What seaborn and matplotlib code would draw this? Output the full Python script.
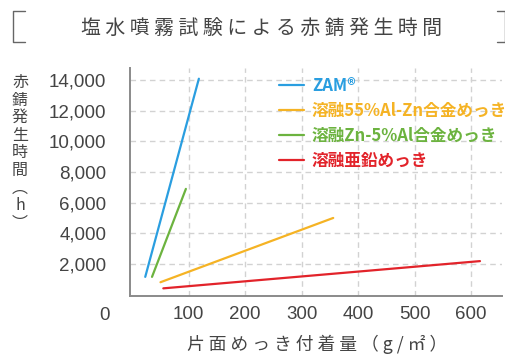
import matplotlib
matplotlib.use("Agg")
import matplotlib.pyplot as plt
import seaborn as sns
import pandas as pd
from matplotlib.lines import Line2D

# ---- data ----
series_names = ["ZAM®", "溶融55%Al-Zn合金めっき", "溶融Zn-5%Al合金めっき", "溶融亜鉛めっき"]
series_colors = ["#2a9ee0", "#f5b324", "#6cb33f", "#e2232a"]
zam_x = [23, 118]
zam_y = [1150, 14100]
alzn_x = [50, 356]
alzn_y = [800, 5000]
znal_x = [35, 95]
znal_y = [1150, 6900]
galv_x = [55, 616]
galv_y = [400, 2180]
x_ticks = [100, 200, 300, 400, 500, 600]
y_ticks = [2000, 4000, 6000, 8000, 10000, 12000, 14000]
y_ticklabels = ["2,000", "4,000", "6,000", "8,000", "10,000", "12,000", "14,000"]
title = "塩 水 噴 霧 試 験 に よ る 赤 錆 発 生 時 間"
xlabel = "片 面 め っ き 付 着 量 （ g / ㎡ ）"
ylabel = "赤\n錆\n発\n生\n時\n間\n︵\nh\n︶"

rows = []
for name, xs, ys in zip(series_names, [zam_x, alzn_x, znal_x, galv_x],
                        [zam_y, alzn_y, znal_y, galv_y]):
    for xv, yv in zip(xs, ys):
        rows.append({"x": xv, "y": yv, "series": name})
df = pd.DataFrame(rows)

sns.set_style("white")
JP = ["Noto Sans CJK JP", "DejaVu Sans"]
plt.rcParams["font.family"] = JP

W, H = 506, 356
fig = plt.figure(figsize=(W / 100, H / 100), dpi=100)
ax = fig.add_axes([130 / W, 1 - 296 / H, (502 - 130) / W, (296 - 68) / H])

# grid (drawn first, below the data)
ax.set_axisbelow(True)
for xv in x_ticks:
    ax.axvline(xv, color="#d2d2d2", lw=1.0, ls=(0, (4, 3)), zorder=0)
for yv in y_ticks:
    ax.axhline(yv, color="#d2d2d2", lw=1.0, ls=(0, (4, 3)), zorder=0)

sns.lineplot(data=df, x="x", y="y", hue="series", hue_order=series_names,
             palette=dict(zip(series_names, series_colors)), sort=False,
             estimator=None, linewidth=1.6, ax=ax, zorder=3)

ax.set_xlim(-4, 655)
ax.set_ylim(-100, 14800)
ax.set_xticks(x_ticks)
ax.set_xticklabels([str(t) for t in x_ticks])
ax.set_yticks(y_ticks)
ax.set_yticklabels(y_ticklabels)
ax.tick_params(axis="both", length=0, labelsize=13.5, colors="#444444")
ax.tick_params(axis="y", pad=17)
ax.tick_params(axis="x", pad=7)
for lab in ax.get_xticklabels() + ax.get_yticklabels():
    lab.set_family(["Liberation Sans", "DejaVu Sans"])
ax.set_xlabel("")
ax.set_ylabel("")
for s in ["top", "right"]:
    ax.spines[s].set_visible(False)
for s in ["left", "bottom"]:
    ax.spines[s].set_color("#8a8a8a")
    ax.spines[s].set_linewidth(1.4)

# origin label
ax.text(-50, -800, "0", transform=ax.transData, fontsize=13.5, color="#444444",
        family=["Liberation Sans", "DejaVu Sans"], ha="center", va="top")

# legend
handles = [Line2D([0], [0], color=c, lw=1.6) for c in series_colors]
leg = ax.legend(handles, series_names, loc="upper left",
                bbox_to_anchor=(271 / W, 1 - 69 / H), bbox_transform=fig.transFigure,
                frameon=False, borderpad=0, handlelength=1.45, handletextpad=0.5,
                labelspacing=0.42, prop={"family": JP, "size": 12, "weight": "bold"},
                labelcolor="linecolor")

# title and labels
fig.text(262 / W, 1 - 29 / H, title, ha="center", va="center", fontsize=14.3,
         color="#444444", family=JP)
fig.text(317 / W, 1 - 344 / H, xlabel, ha="center", va="center", fontsize=12.8,
         color="#444444", family=JP)
fig.text(20 / W, 1 - 153 / H, ylabel, ha="center", va="center", fontsize=11.5,
         color="#444444", family=JP, linespacing=1.05)

# bracket decorations
def px_line(xs, ys):
    fig.add_artist(Line2D([x / W for x in xs], [1 - y / H for y in ys],
                          transform=fig.transFigure, color="#666666", lw=1.0))

px_line([25, 13, 13, 25], [11, 11, 42, 42])
px_line([497, 505, 505, 497], [11, 11, 42, 42])

fig.savefig("out.png", dpi=100)
